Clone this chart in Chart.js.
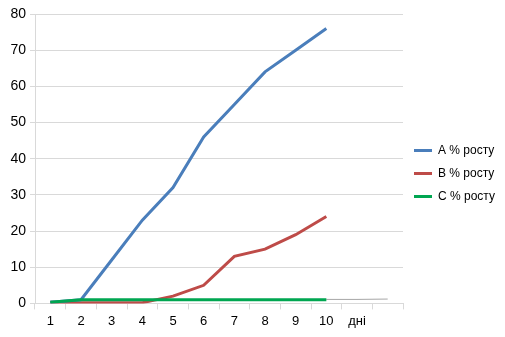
<!DOCTYPE html>
<html>
<head>
<meta charset="utf-8">
<script src="https://cdn.jsdelivr.net/npm/chart.js@4/dist/chart.umd.min.js"></script>
<style>
  html, body { margin: 0; padding: 0; background: #fff; }
  #wrap { width: 505px; height: 337px; }
</style>
</head>
<body>
<div id="wrap"><canvas id="growthChart"></canvas></div>
<script>
const days = ['1', '2', '3', '4', '5', '6', '7', '8', '9', '10', 'дні', ''];
const seriesA = [0.3, 1, 12, 23, 32, 46, 55, 64, 70, 76];
const seriesB = [0.3, 0.2, 0.2, 0.2, 2, 5, 13, 15, 19, 24];
const seriesC = [0.3, 1, 1, 1, 1, 1, 1, 1, 1, 1];
const baseLine = [0.3, 1, 1, 1, 1, 1, 1, 1, 1, 1.1, 1.1, 1.2];
const yTicks = [0, 10, 20, 30, 40, 50, 60, 70, 80];

const font = { family: 'Liberation Sans', size: 13 };

const ctx = document.getElementById('growthChart');
const myChart = new Chart(ctx, {
    type: 'line',
    data: {
        labels: days,
        datasets: [
            { label: 'A % росту', data: seriesA, borderColor: '#4a7ebb', backgroundColor: '#4a7ebb', borderWidth: 3, pointRadius: 0, order: 2 },
            { label: 'B % росту', data: seriesB, borderColor: '#be4b48', backgroundColor: '#be4b48', borderWidth: 3, pointRadius: 0, order: 3 },
            { label: 'C % росту', data: seriesC, borderColor: '#00a651', backgroundColor: '#00a651', borderWidth: 3, pointRadius: 0, order: 1 },
            { label: 'base', data: baseLine, borderColor: '#a6a6a6', backgroundColor: '#a6a6a6', borderWidth: 1, pointRadius: 0, order: 4 }
        ]
    },
    options: {
        responsive: true,
        maintainAspectRatio: false,
        animation: false,
        layout: { padding: { top: 14, right: 0, bottom: 4, left: 4 } },
        plugins: {
            tooltip: { enabled: false },
            legend: {
                position: 'right',
                labels: {
                    filter: (item) => item.text !== 'base',
                    sort: (a, b) => a.datasetIndex - b.datasetIndex,
                    usePointStyle: true,
                    pointStyle: 'line',
                    pointStyleWidth: 18,
                    color: '#000',
                    font: { family: 'Liberation Sans', size: 12 },
                    padding: 11
                }
            }
        },
        scales: {
            x: {
                offset: true,
                grid: { offset: true, drawOnChartArea: false, drawTicks: true, tickLength: 6, color: '#d9d9d9' },
                border: { color: '#d9d9d9' },
                ticks: { color: '#000', font: font, autoSkip: false, maxRotation: 0, padding: 4 }
            },
            y: {
                min: 0,
                max: 80,
                afterBuildTicks: (axis) => { axis.ticks = yTicks.map(v => ({ value: v })); },
                afterFit: (axis) => { axis.width = 31; },
                grid: { color: '#d9d9d9', tickLength: 5 },
                border: { color: '#d9d9d9' },
                ticks: { color: '#000', font: { family: 'Liberation Sans', size: 14 }, padding: 4 }
            }
        }
    }
});
</script>
</body>
</html>
